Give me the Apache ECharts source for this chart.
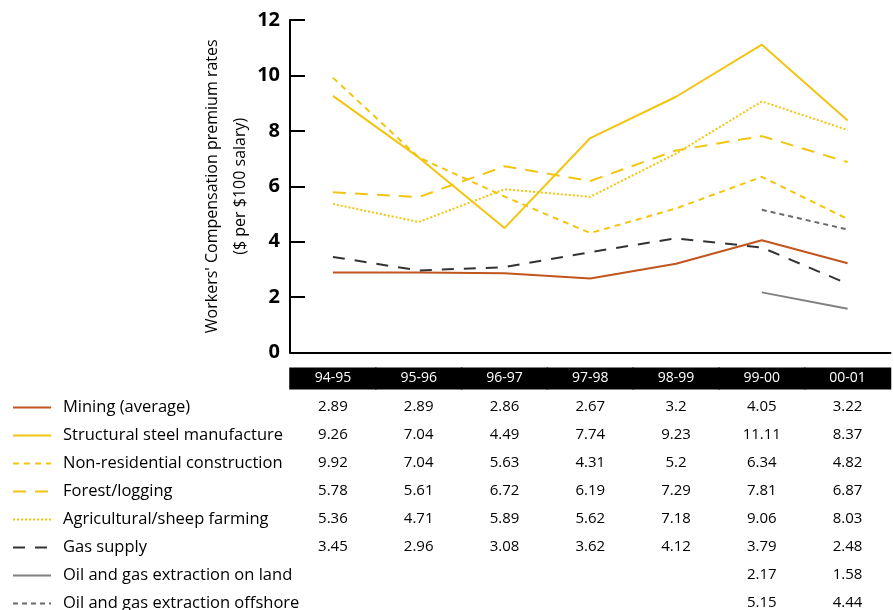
<!DOCTYPE html>
<html>
<head>
<meta charset="utf-8">
<script src="https://cdn.jsdelivr.net/npm/echarts@6/dist/echarts.min.js"></script>
<style>
  html, body { margin: 0; padding: 0; background: #fff; }
  #chart { width: 894px; height: 610px; }
</style>
</head>
<body>
<div id="chart"></div>
<script>
// Financial years along the x axis
const categories = ['94-95', '95-96', '96-97', '97-98', '98-99', '99-00', '00-01'];

// Premium rates, $ per $100 salary
const mining       = [2.89, 2.89, 2.86, 2.67, 3.2, 4.05, 3.22];
const steel        = [9.26, 7.04, 4.49, 7.74, 9.23, 11.11, 8.37];
const construction = [9.92, 7.04, 5.63, 4.31, 5.2, 6.34, 4.82];
const forestry     = [5.78, 5.61, 6.72, 6.19, 7.29, 7.81, 6.87];
const farming      = [5.36, 4.71, 5.89, 5.62, 7.18, 9.06, 8.03];
const gasSupply    = [3.45, 2.96, 3.08, 3.62, 4.12, 3.79, 2.48];
const oilLand      = [null, null, null, null, null, 2.17, 1.58];
const oilOffshore  = [null, null, null, null, null, 5.15, 4.44];

// y-axis tick values
const yTicks = [0, 2, 4, 6, 8, 10, 12];

const FONT = 'Open Sans';
const YELLOW = '#F2C511';

const seriesDefs = [
  { name: 'Mining (average)', data: mining, color: '#C0561E', type: 'solid' },
  { name: 'Structural steel manufacture', data: steel, color: YELLOW, type: 'solid' },
  { name: 'Non-residential construction', data: construction, color: YELLOW, type: [6, 5] },
  { name: 'Forest/logging', data: forestry, color: YELLOW, type: [13, 9] },
  { name: 'Agricultural/sheep farming', data: farming, color: YELLOW, type: [2, 2] },
  { name: 'Gas supply', data: gasSupply, color: '#333333', type: [12, 10] },
  { name: 'Oil and gas extraction on land', data: oilLand, color: '#808080', type: 'solid' },
  { name: 'Oil and gas extraction offshore', data: oilOffshore, color: '#6a6a6a', type: [5, 4] }
];

const gridLeft = 290, gridRight = 0, gridTop = 20, gridBottom = 257;
const chartWidth = 894;
const catWidth = (chartWidth - gridLeft - gridRight) / categories.length;

// table rows below the chart: distance of each row's centre from the x axis line
const rowStart = 54, rowStep = 28;

const tableAxes = seriesDefs.map((s, i) => ({
  type: 'category',
  gridIndex: 0,
  position: 'bottom',
  offset: rowStart + i * rowStep,
  data: categories,
  axisLine: { show: false },
  axisTick: { show: false },
  axisLabel: {
    interval: 0,
    margin: 0,
    verticalAlign: 'middle',
    fontFamily: FONT,
    fontSize: 15,
    color: '#000',
    formatter: (val, idx) => (s.data[idx] == null ? '' : String(s.data[idx]))
  }
}));

const chart = echarts.init(document.getElementById('chart'), null, { renderer: 'canvas' });

chart.setOption({
  animation: false,
  backgroundColor: '#fff',
  grid: { left: gridLeft, right: gridRight, top: gridTop, bottom: gridBottom, containLabel: false },
  legend: {
    orient: 'vertical',
    left: 12,
    top: 399,
    height: 240,
    padding: 0,
    itemWidth: 38,
    itemHeight: 14,
    itemGap: 11,
    selectedMode: false,
    itemStyle: { color: 'transparent', borderColor: 'transparent', borderWidth: 0 },
    textStyle: {
      fontFamily: FONT,
      fontSize: 16.5,
      color: '#000',
      lineHeight: 14,
      padding: [0, 0, 0, 7]
    },
    data: seriesDefs.map(s => s.name)
  },
  xAxis: [
    {
      type: 'category',
      data: categories,
      boundaryGap: true,
      axisLine: { lineStyle: { color: '#000', width: 2 } },
      axisTick: { inside: true, length: 8, lineStyle: { color: '#000', width: 2 } },
      axisLabel: {
        interval: 0,
        margin: 26,
        verticalAlign: 'middle',
        fontFamily: FONT,
        fontSize: 14,
        color: '#fff',
        backgroundColor: '#000',
        width: catWidth + 1,
        align: 'center',
        lineHeight: 16,
        padding: [3, 0, 3, 0]
      }
    },
    ...tableAxes
  ],
  yAxis: {
    type: 'value',
    min: yTicks[0],
    max: yTicks[yTicks.length - 1],
    interval: yTicks[1] - yTicks[0],
    name: "Workers' Compensation premium rates\n($ per $100 salary)",
    nameLocation: 'middle',
    nameGap: 36,
    nameMoveOverlap: false,
    nameTextStyle: { fontFamily: FONT, fontSize: 16, color: '#000', lineHeight: 28 },
    axisLine: { show: true, lineStyle: { color: '#000', width: 2 } },
    axisTick: { show: true, inside: true, length: 15, lineStyle: { color: '#000', width: 2 } },
    splitLine: { show: false },
    axisLabel: { margin: 10, fontFamily: FONT, fontSize: 20, fontWeight: 'bold', color: '#000' }
  },
  series: seriesDefs.map(s => ({
    name: s.name,
    type: 'line',
    xAxisIndex: 0,
    data: s.data,
    symbol: 'none',
    connectNulls: false,
    color: s.color,
    lineStyle: { color: s.color, width: 2, type: s.type }
  }))
});
</script>
</body>
</html>
